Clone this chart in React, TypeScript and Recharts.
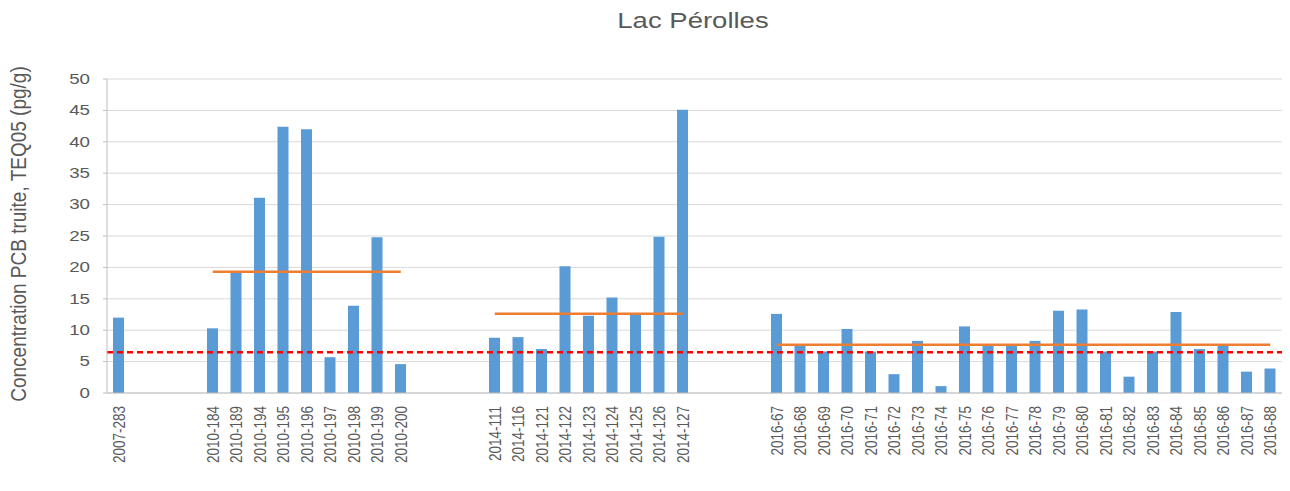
import React from 'react';
import { ComposedChart, Bar, Line, XAxis, YAxis, CartesianGrid, ReferenceLine } from 'recharts';

// samples per campaign
const samples2007 = ['2007-283'];
const values2007 = [12.0];

const samples2010 = ['2010-184', '2010-189', '2010-194', '2010-195', '2010-196', '2010-197', '2010-198', '2010-199', '2010-200'];
const values2010 = [10.3, 19.1, 31.1, 42.4, 42.0, 5.7, 13.9, 24.8, 4.6];
const median2010 = 19.3;

const samples2014 = ['2014-111', '2014-116', '2014-121', '2014-122', '2014-123', '2014-124', '2014-125', '2014-126', '2014-127'];
const values2014 = [8.8, 8.9, 7.0, 20.2, 12.3, 15.2, 12.5, 24.9, 45.1];
const median2014 = 12.6;

const samples2016 = [
  '2016-67', '2016-68', '2016-69', '2016-70', '2016-71', '2016-72', '2016-73', '2016-74', '2016-75', '2016-76', '2016-77',
  '2016-78', '2016-79', '2016-80', '2016-81', '2016-82', '2016-83', '2016-84', '2016-85', '2016-86', '2016-87', '2016-88',
];
const values2016 = [12.6, 7.6, 6.6, 10.2, 6.6, 3.0, 8.3, 1.1, 10.6, 7.6, 7.6, 8.3, 13.1, 13.3, 6.6, 2.6, 6.6, 12.9, 7.0, 7.6, 3.4, 3.9];
const median2016 = 7.7;

const threshold = 6.5;
const yTicks = [0, 5, 10, 15, 20, 25, 30, 35, 40, 45, 50];
const GAP = 3; // empty slots between campaigns

const groups = [
  { labels: samples2007, values: values2007, median: null as number | null },
  { labels: samples2010, values: values2010, median: median2010 },
  { labels: samples2014, values: values2014, median: median2014 },
  { labels: samples2016, values: values2016, median: median2016 },
];

const data: any[] = [];
groups.forEach((g, gi) => {
  if (gi > 0) {
    for (let k = 0; k < GAP; k++) data.push({ name: `gap-${gi}-${k}` });
  }
  g.labels.forEach((label, i) => {
    const row: any = { name: label, teq: g.values[i] };
    if (g.median != null) row[`med${gi}`] = g.median;
    data.push(row);
  });
});

const FONT = '"Liberation Sans", Arial, sans-serif';
const TEXT = '#595959';

const XTick = ({ x, y, payload }: any) => {
  if (String(payload.value).startsWith('gap')) return <g />;
  return (
    <g transform={`translate(${x},${y + 11}) scale(1.25,1) rotate(-90)`}>
      <text textAnchor="end" dominantBaseline="central" fontSize={13.5} fontFamily={FONT} fill={TEXT}>
        {payload.value}
      </text>
    </g>
  );
};

const YTick = ({ x, y, payload }: any) => (
  <g transform={`translate(${x},${y}) scale(1.25,1)`}>
    <text textAnchor="end" dominantBaseline="central" fontSize={15} fontFamily={FONT} fill={TEXT}>
      {payload.value}
    </text>
  </g>
);

export default function App() {
  return (
    <div style={{ position: 'relative', width: 1282, height: 483, fontFamily: FONT }}>
      <div
        style={{
          position: 'absolute',
          left: 685,
          top: 2,
          fontSize: 22,
          lineHeight: '22px',
          color: TEXT,
          whiteSpace: 'nowrap',
          transform: 'translateX(-50%) scaleX(1.25)',
        }}
      >
        Lac Pérolles
      </div>
      <div
        style={{
          position: 'absolute',
          left: 10,
          top: 226,
          fontSize: 19,
          lineHeight: '19px',
          color: TEXT,
          whiteSpace: 'nowrap',
          transform: 'translate(-50%,-50%) scaleX(1.2) rotate(-90deg)',
        }}
      >
        Concentration PCB truite, TEQ05 (pg/g)
      </div>
      <ComposedChart width={1282} height={483} data={data} margin={{ top: 71, right: 8, left: 0, bottom: 0 }}>
        <CartesianGrid vertical={false} stroke="#D9D9D9" />
        <XAxis
          dataKey="name"
          interval={0}
          height={98}
          tickLine={false}
          tickSize={0}
          tick={<XTick />}
          axisLine={{ stroke: '#BFBFBF' }}
        />
        <YAxis
          width={99}
          domain={[0, 50]}
          ticks={yTicks}
          tickSize={4}
          tickMargin={13}
          tick={<YTick />}
          axisLine={{ stroke: '#BFBFBF' }}
          tickLine={{ stroke: '#BFBFBF' }}
        />
        <Bar dataKey="teq" fill="#5B9BD5" barSize={11} isAnimationActive={false} />
        {[1, 2, 3].map((gi) => (
          <Line
            key={gi}
            dataKey={`med${gi}`}
            stroke="#ED7D31"
            strokeWidth={2.5}
            dot={false}
            activeDot={false}
            connectNulls={false}
            isAnimationActive={false}
          />
        ))}
        <ReferenceLine y={threshold} stroke="#FF0000" strokeWidth={2.5} strokeDasharray="6 4" />
      </ComposedChart>
    </div>
  );
}
